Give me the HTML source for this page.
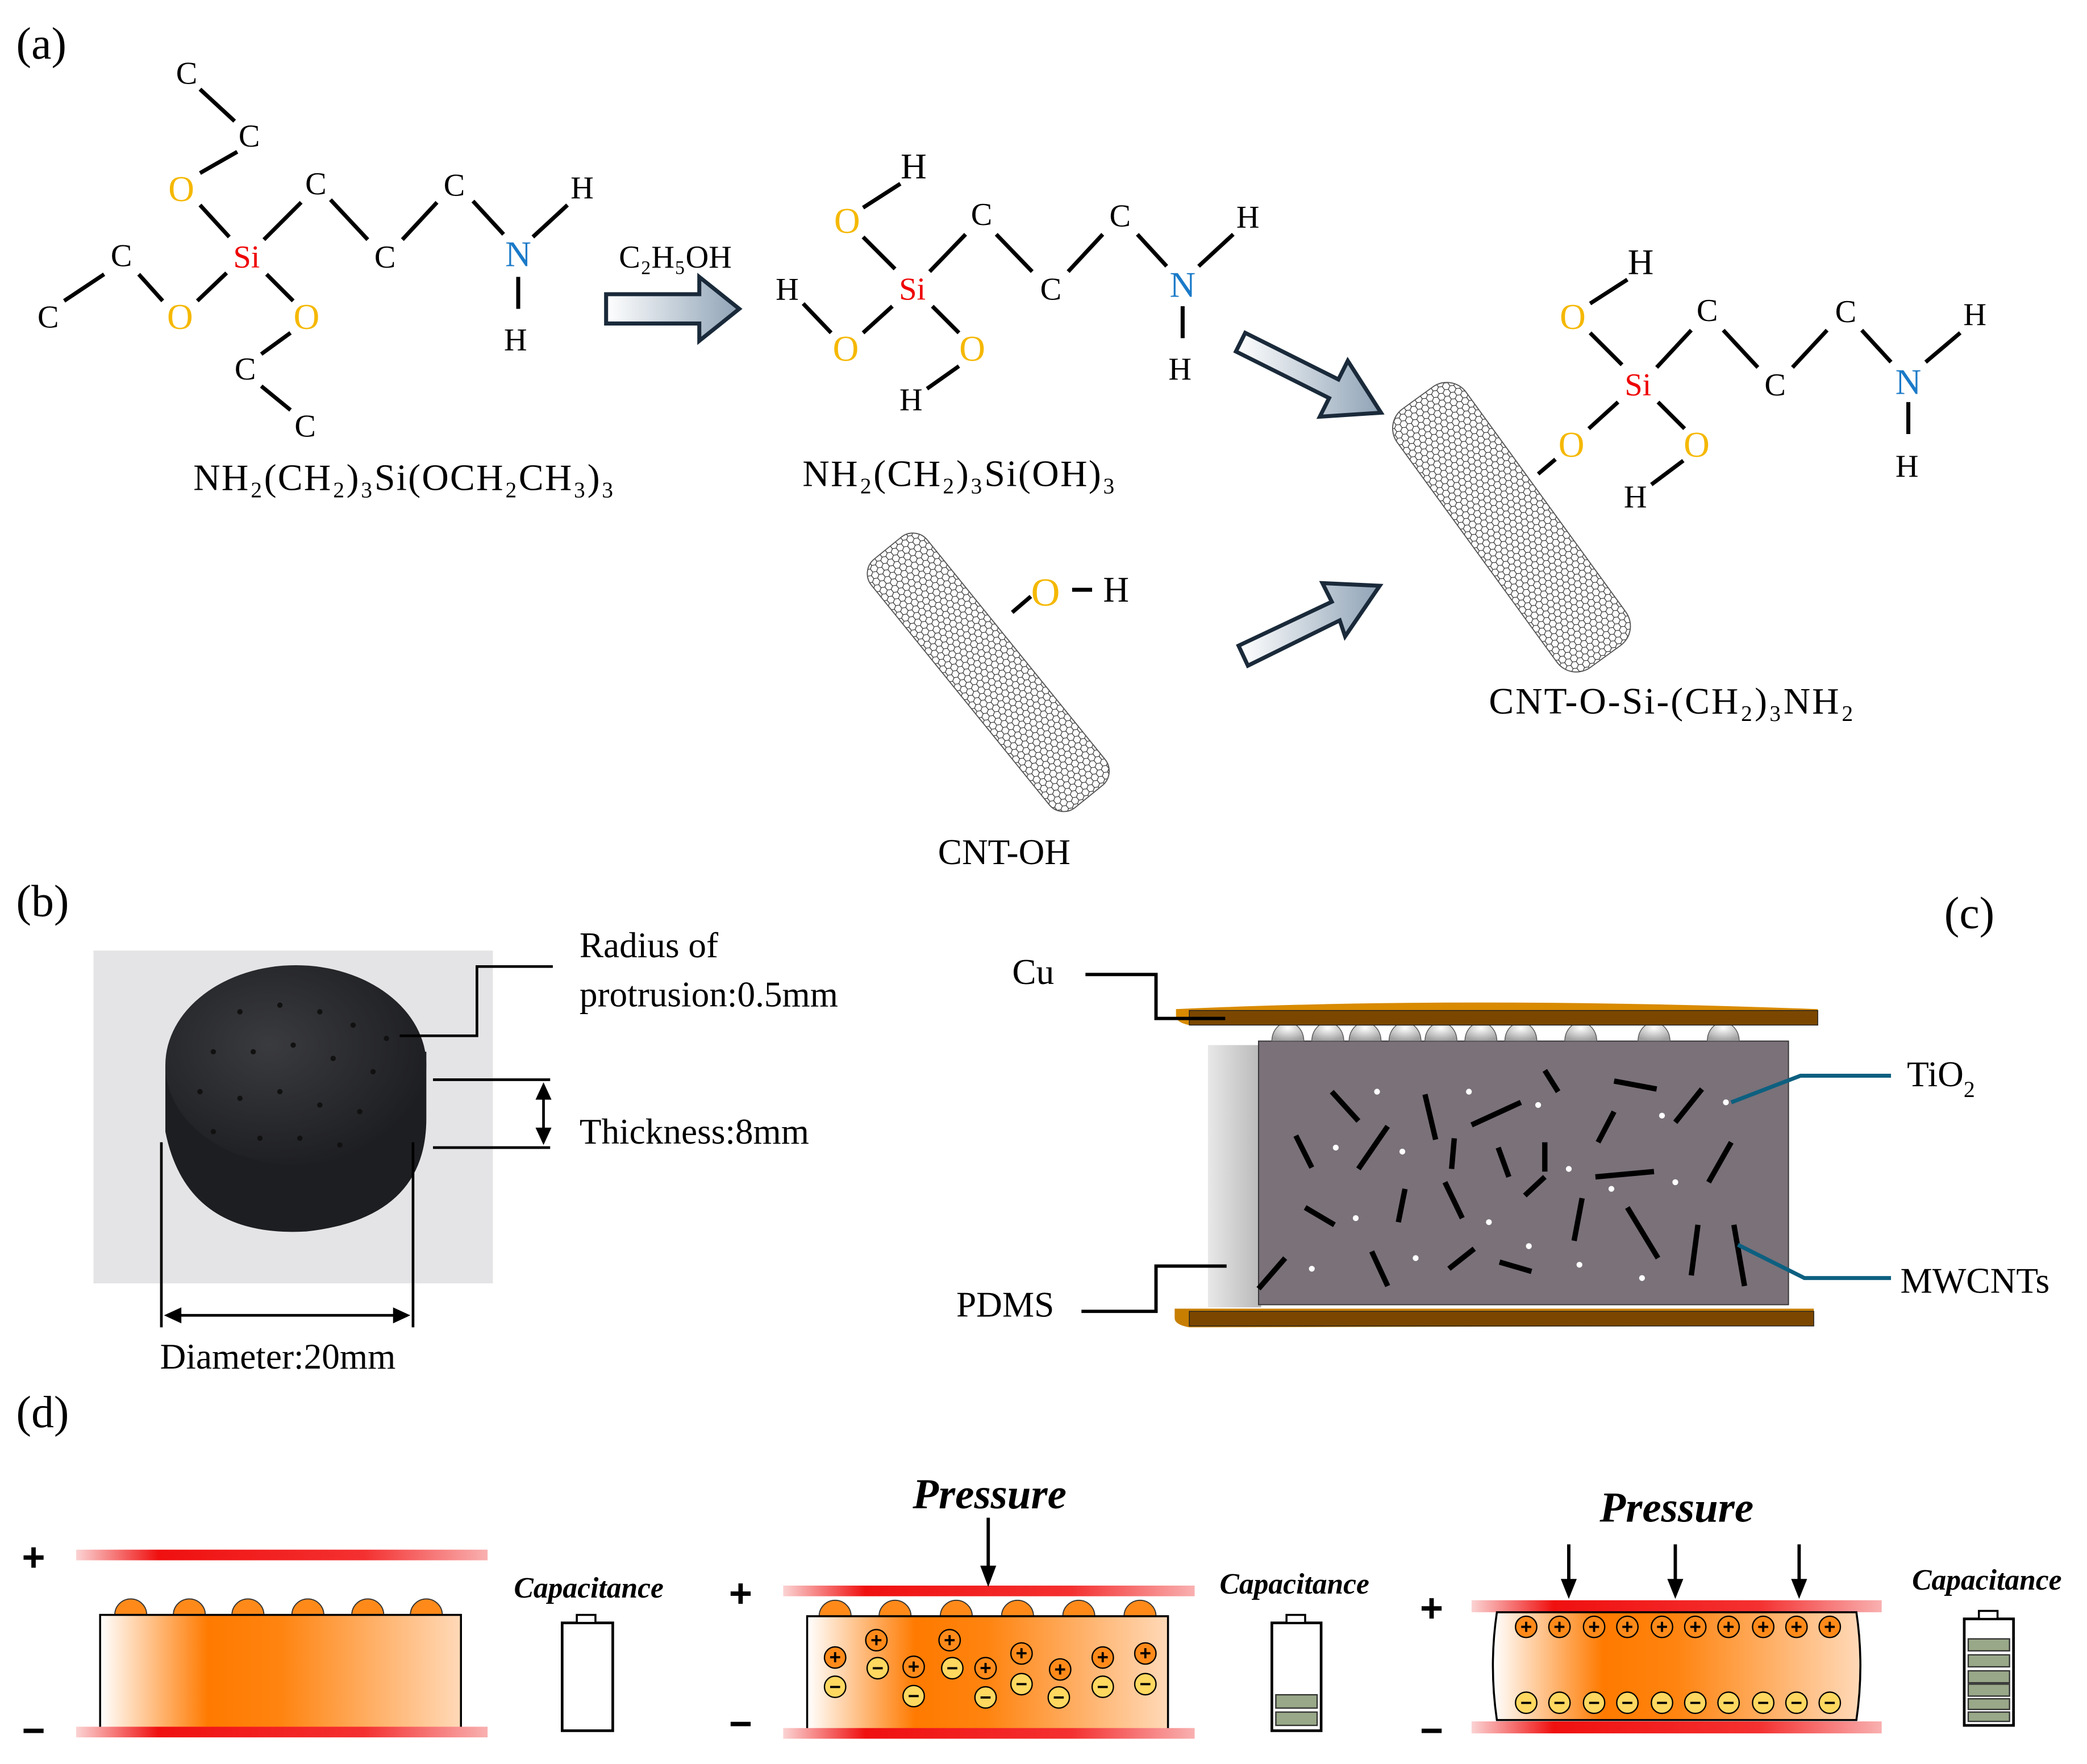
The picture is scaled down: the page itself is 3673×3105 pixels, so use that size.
<!DOCTYPE html>
<html><head><meta charset="utf-8"><style>html,body{margin:0;padding:0;background:#fff}svg{display:block}</style></head><body>
<svg xmlns="http://www.w3.org/2000/svg" width="3673" height="3105" viewBox="0 0 1567 1325" font-family="Liberation Serif, serif">
<defs>
<pattern id="hex" width="5" height="8.7" patternUnits="userSpaceOnUse">
<path d="M0,0 L2.5,1.45 L2.5,4.35 L0,5.8 M2.5,1.45 L5,0 M2.5,4.35 L5,5.8 L5,8.7 M0,5.8 L0,8.7" stroke="#222" stroke-width="0.5" fill="none"/>
</pattern>
<linearGradient id="arr" x1="0" y1="0" x2="1" y2="0"><stop offset="0" stop-color="#fff"/><stop offset="1" stop-color="#8fa3b6"/></linearGradient>
<linearGradient id="red" x1="0" y1="0" x2="1" y2="0"><stop offset="0" stop-color="#fbd3d3"/><stop offset="0.2" stop-color="#f01010"/><stop offset="0.7" stop-color="#f43030"/><stop offset="1" stop-color="#f9b0b0"/></linearGradient>
<linearGradient id="org" x1="0" y1="0" x2="1" y2="0"><stop offset="0" stop-color="#fff"/><stop offset="0.3" stop-color="#ff7a00"/><stop offset="0.5" stop-color="#ff8410"/><stop offset="1" stop-color="#ffd9b8"/></linearGradient>
<linearGradient id="side" x1="0" y1="0" x2="1" y2="0"><stop offset="0" stop-color="#e8e8e8"/><stop offset="1" stop-color="#b8b8b8"/></linearGradient>
<radialGradient id="bump" cx="0.5" cy="0.3" r="0.7"><stop offset="0" stop-color="#fff"/><stop offset="1" stop-color="#a0a0a0"/></radialGradient>
<radialGradient id="disc" cx="0.4" cy="0.4" r="0.7"><stop offset="0" stop-color="#3a3b3f"/><stop offset="1" stop-color="#1a1b1e"/></radialGradient>
</defs>

<g font-size="34"><text x="12" y="44">(a)</text><text x="12" y="688">(b)</text><text x="1460" y="697">(c)</text><text x="12" y="1072">(d)</text></g>

<!-- Molecule 1 -->
<g stroke="#000" stroke-width="3">
<line x1="150" y1="67" x2="176" y2="91"/><line x1="178" y1="114" x2="150" y2="130"/><line x1="150" y1="154" x2="172" y2="178"/>
<line x1="198" y1="180" x2="226" y2="152"/><line x1="248" y1="150" x2="276" y2="180"/><line x1="302" y1="180" x2="328" y2="152"/>
<line x1="355" y1="151" x2="378" y2="176"/><line x1="400" y1="178" x2="426" y2="154"/><line x1="389" y1="208" x2="389" y2="232"/>
<line x1="170" y1="205" x2="148" y2="226"/><line x1="122" y1="226" x2="104" y2="206"/><line x1="78" y1="206" x2="48" y2="226"/>
<line x1="200" y1="206" x2="220" y2="226"/><line x1="218" y1="250" x2="196" y2="266"/><line x1="196" y1="290" x2="218" y2="308"/>
</g>
<g font-size="24" text-anchor="middle">
<text x="140" y="63">C</text><text x="187" y="110">C</text><text x="136" y="151" fill="#f5b800" font-size="27">O</text><text x="185" y="201" fill="#e00">Si</text>
<text x="237" y="146">C</text><text x="289" y="201">C</text><text x="341" y="147">C</text><text x="389" y="200" fill="#1a7ac8" font-size="27">N</text>
<text x="437" y="149">H</text><text x="387" y="263">H</text><text x="135" y="247" fill="#f5b800" font-size="27">O</text><text x="91" y="200">C</text>
<text x="36" y="246">C</text><text x="230" y="247" fill="#f5b800" font-size="27">O</text><text x="184" y="285">C</text><text x="229" y="328">C</text>
<text x="303" y="368" font-size="28" textLength="316">NH₂(CH₂)₃Si(OCH₂CH₃)₃</text>
<text x="507" y="201" font-size="24">C₂H₅OH</text>
</g>
<polygon points="455,221 525,221 525,208 555,232 525,256 525,243 455,243" fill="url(#arr)" stroke="#1a2a3a" stroke-width="3"/>

<!-- Molecule 2 -->
<g stroke="#000" stroke-width="3">
<line x1="676" y1="138" x2="648" y2="156"/><line x1="648" y1="178" x2="672" y2="202"/><line x1="698" y1="204" x2="725" y2="176"/>
<line x1="748" y1="176" x2="775" y2="204"/><line x1="802" y1="204" x2="828" y2="176"/><line x1="854" y1="176" x2="876" y2="200"/>
<line x1="900" y1="200" x2="926" y2="176"/><line x1="888" y1="230" x2="888" y2="254"/><line x1="603" y1="228" x2="624" y2="250"/>
<line x1="670" y1="230" x2="648" y2="250"/><line x1="700" y1="230" x2="720" y2="250"/><line x1="720" y1="275" x2="696" y2="292"/>
</g>
<g font-size="24" text-anchor="middle">
<text x="686" y="134" font-size="27">H</text><text x="636" y="175" fill="#f5b800" font-size="27">O</text><text x="685" y="225" fill="#e00">Si</text>
<text x="737" y="169">C</text><text x="789" y="225">C</text><text x="841" y="170">C</text><text x="888" y="223" fill="#1a7ac8" font-size="27">N</text>
<text x="937" y="171">H</text><text x="886" y="285">H</text><text x="591" y="225">H</text><text x="635" y="271" fill="#f5b800" font-size="27">O</text>
<text x="730" y="271" fill="#f5b800" font-size="27">O</text><text x="684" y="308">H</text>
<text x="720" y="365" font-size="28" textLength="235">NH₂(CH₂)₃Si(OH)₃</text>
</g>

<!-- CNT-OH -->
<g transform="translate(742,505) rotate(-39)">
<rect x="-27" y="-120" width="54" height="240" rx="14" fill="url(#hex)" stroke="#555" stroke-width="0.8"/>
</g>
<line x1="760" y1="460" x2="774" y2="448" stroke="#000" stroke-width="3"/>
<line x1="805" y1="443" x2="820" y2="443" stroke="#000" stroke-width="3"/>
<text x="785" y="455" font-size="30" fill="#f5b800" text-anchor="middle">O</text>
<text x="838" y="452" font-size="27" text-anchor="middle">H</text>
<text x="754" y="649" font-size="27" text-anchor="middle">CNT-OH</text>

<!-- diagonal arrows -->
<g fill="url(#arr)" stroke="#1a2a3a" stroke-width="3">
<polygon points="935,250 1005,285 1012,271 1037,310 991,313 998,299 928,264"/>
<polygon points="930,485 1000,452 993,438 1036,440 1010,478 1006,466 937,500"/>
</g>

<!-- Molecule 3 -->
<g transform="translate(1135,396) rotate(-36)">
<rect x="-32" y="-120" width="64" height="240" rx="18" fill="url(#hex)" stroke="#555" stroke-width="0.8"/>
</g>
<g stroke="#000" stroke-width="3">
<line x1="1222" y1="210" x2="1194" y2="228"/><line x1="1194" y1="250" x2="1218" y2="274"/><line x1="1244" y1="276" x2="1270" y2="248"/>
<line x1="1294" y1="248" x2="1320" y2="276"/><line x1="1346" y1="276" x2="1372" y2="248"/><line x1="1398" y1="248" x2="1420" y2="272"/>
<line x1="1446" y1="272" x2="1472" y2="250"/><line x1="1433" y1="302" x2="1433" y2="326"/><line x1="1215" y1="302" x2="1193" y2="322"/>
<line x1="1245" y1="302" x2="1265" y2="322"/><line x1="1264" y1="346" x2="1240" y2="364"/><line x1="1168" y1="345" x2="1155" y2="356"/>
</g>
<g font-size="24" text-anchor="middle">
<text x="1232" y="206" font-size="27">H</text><text x="1181" y="247" fill="#f5b800" font-size="27">O</text><text x="1230" y="297" fill="#e00">Si</text>
<text x="1282" y="241">C</text><text x="1333" y="297">C</text><text x="1386" y="242">C</text><text x="1433" y="296" fill="#1a7ac8" font-size="27">N</text>
<text x="1483" y="244">H</text><text x="1432" y="358">H</text><text x="1180" y="343" fill="#f5b800" font-size="27">O</text>
<text x="1274" y="343" fill="#f5b800" font-size="27">O</text><text x="1228" y="381">H</text>
<text x="1255" y="536" font-size="28" textLength="274">CNT-O-Si-(CH₂)₃NH₂</text>
</g>

<!-- (b) photo -->
<rect x="70" y="714" width="300" height="250" fill="#e4e4e6"/>
<path d="M124,800 L124,850 Q140,930 230,925 Q320,915 320,840 L320,790 Z" fill="#1d1e21"/>
<ellipse cx="222" cy="800" rx="98" ry="75" fill="url(#disc)"/>
<g fill="#111">
<circle cx="180" cy="760" r="2"/><circle cx="210" cy="755" r="2"/><circle cx="240" cy="760" r="2"/><circle cx="265" cy="770" r="2"/><circle cx="290" cy="780" r="2"/>
<circle cx="160" cy="790" r="2"/><circle cx="190" cy="790" r="2"/><circle cx="220" cy="785" r="2"/><circle cx="250" cy="795" r="2"/><circle cx="280" cy="805" r="2"/>
<circle cx="150" cy="820" r="2"/><circle cx="180" cy="825" r="2"/><circle cx="210" cy="820" r="2"/><circle cx="240" cy="830" r="2"/><circle cx="270" cy="835" r="2"/>
<circle cx="160" cy="850" r="2"/><circle cx="195" cy="855" r="2"/><circle cx="225" cy="855" r="2"/><circle cx="255" cy="860" r="2"/>
</g>
<g stroke="#000" stroke-width="2" fill="none">
<polyline points="300,778 358,778 358,726 415,726"/>
<line x1="325" y1="811" x2="413" y2="811"/><line x1="325" y1="862" x2="413" y2="862"/>
<line x1="408" y1="818" x2="408" y2="855"/>
<line x1="121" y1="858" x2="121" y2="997"/><line x1="310" y1="858" x2="310" y2="997"/>
<line x1="130" y1="988" x2="301" y2="988"/>
</g>
<g fill="#000">
<polygon points="408,813 402,826 414,826"/><polygon points="408,860 402,847 414,847"/>
<polygon points="123,988 136,982 136,994"/><polygon points="308,988 295,982 295,994"/>
</g>
<g font-size="27"><text x="435" y="719">Radius of</text><text x="435" y="756">protrusion:0.5mm</text><text x="435" y="859">Thickness:8mm</text><text x="120" y="1028">Diameter:20mm</text></g>

<!-- (c) -->
<rect x="907" y="785" width="40" height="197" fill="url(#side)"/>
<rect x="945" y="782" width="398" height="198" fill="#7a7179" stroke="#333" stroke-width="0.8"/>
<g fill="url(#bump)" stroke="#555" stroke-width="0.6">
<path d="M955,782 a12,14 0 0 1 24,0z"/><path d="M985,782 a12,14 0 0 1 24,0z"/><path d="M1013,782 a12,14 0 0 1 24,0z"/><path d="M1043,782 a12,14 0 0 1 24,0z"/><path d="M1070,782 a12,14 0 0 1 24,0z"/><path d="M1100,782 a12,14 0 0 1 24,0z"/><path d="M1130,782 a12,14 0 0 1 24,0z"/><path d="M1175,782 a12,14 0 0 1 24,0z"/><path d="M1230,782 a12,14 0 0 1 24,0z"/><path d="M1282,782 a12,14 0 0 1 24,0z"/>
</g>
<path d="M883,758 Q1100,748 1365,758 L1365,770 L893,770 Q883,768 883,763Z" fill="#d88a00"/>
<rect x="893" y="759" width="472" height="11" fill="#7b4700" stroke="#222" stroke-width="0.6"/>
<path d="M882,983 L1362,983 L1362,996 L893,997 Q882,995 882,990Z" fill="#c87e00"/>
<rect x="893" y="985" width="469" height="11" fill="#7b4700" stroke="#222" stroke-width="0.6"/>
<g stroke="#000" stroke-width="4" stroke-linecap="butt">
<line x1="1000" y1="820" x2="1020" y2="842"/><line x1="1070" y1="822" x2="1078" y2="856"/><line x1="1105" y1="845" x2="1142" y2="828"/>
<line x1="1160" y1="804" x2="1170" y2="820"/><line x1="1212" y1="812" x2="1244" y2="818"/><line x1="1258" y1="843" x2="1278" y2="818"/>
<line x1="1200" y1="858" x2="1212" y2="835"/><line x1="973" y1="853" x2="985" y2="877"/><line x1="1020" y1="878" x2="1042" y2="846"/>
<line x1="1090" y1="878" x2="1092" y2="855"/><line x1="1125" y1="862" x2="1133" y2="884"/><line x1="1160" y1="858" x2="1160" y2="880"/>
<line x1="1198" y1="884" x2="1242" y2="880"/><line x1="1283" y1="888" x2="1300" y2="858"/><line x1="980" y1="907" x2="1002" y2="920"/>
<line x1="1050" y1="918" x2="1055" y2="893"/><line x1="1085" y1="888" x2="1098" y2="915"/><line x1="1145" y1="898" x2="1160" y2="884"/>
<line x1="1182" y1="932" x2="1188" y2="900"/><line x1="1222" y1="907" x2="1245" y2="945"/><line x1="945" y1="968" x2="965" y2="945"/>
<line x1="1030" y1="940" x2="1042" y2="966"/><line x1="1088" y1="953" x2="1107" y2="938"/><line x1="1126" y1="948" x2="1150" y2="955"/>
<line x1="1270" y1="958" x2="1275" y2="920"/><line x1="1302" y1="920" x2="1310" y2="966"/>
</g>
<g fill="#fff">
<circle cx="1034" cy="820" r="2.2"/><circle cx="1103" cy="820" r="2.2"/><circle cx="1155" cy="830" r="2.2"/><circle cx="1248" cy="838" r="2.2"/><circle cx="1296" cy="828" r="2.2"/>
<circle cx="1003" cy="862" r="2.2"/><circle cx="1053" cy="865" r="2.2"/><circle cx="1178" cy="878" r="2.2"/><circle cx="1258" cy="888" r="2.2"/><circle cx="1018" cy="915" r="2.2"/>
<circle cx="1118" cy="918" r="2.2"/><circle cx="1210" cy="893" r="2.2"/><circle cx="1063" cy="945" r="2.2"/><circle cx="1148" cy="936" r="2.2"/><circle cx="1186" cy="950" r="2.2"/>
<circle cx="1233" cy="960" r="2.2"/><circle cx="985" cy="953" r="2.2"/>
</g>
<g stroke="#000" stroke-width="2.5" fill="none">
<polyline points="815,732 868,732 868,765 920,765"/><polyline points="812,985 868,985 868,951 921,951"/>
</g>
<g stroke="#0d6080" stroke-width="3" fill="none">
<polyline points="1300,828 1352,808 1420,808"/><polyline points="1305,935 1355,960 1420,960"/>
</g>
<g font-size="27"><text x="760" y="739">Cu</text><text x="718" y="989">PDMS</text><text x="1432" y="816">TiO<tspan font-size="17" dy="8">2</tspan></text><text x="1427" y="971">MWCNTs</text></g>

<!-- (d) -->
<g font-family="Liberation Sans, sans-serif" font-weight="bold" font-size="30" text-anchor="middle">
<text x="25" y="1180">+</text><text x="25" y="1310">−</text>
<text x="556" y="1207">+</text><text x="556" y="1305">−</text>
<text x="1075" y="1218">+</text><text x="1075" y="1310">−</text>
</g>
<g font-weight="bold" font-style="italic" text-anchor="middle">
<text x="442" y="1200" font-size="22">Capacitance</text><text x="972" y="1197" font-size="22">Capacitance</text><text x="1492" y="1194" font-size="22">Capacitance</text>
<text x="743" y="1133" font-size="32">Pressure</text><text x="1259" y="1143" font-size="32">Pressure</text>
</g>
<!-- panel 1 -->
<rect x="57" y="1164" width="309" height="8" fill="url(#red)"/>
<g fill="#ff8a1a" stroke="#333" stroke-width="0.8">
<path d="M86,1213 a12,12 0 0 1 24,0z"/><path d="M130,1213 a12,12 0 0 1 24,0z"/><path d="M174,1213 a12,12 0 0 1 24,0z"/><path d="M219,1213 a12,12 0 0 1 24,0z"/><path d="M264,1213 a12,12 0 0 1 24,0z"/><path d="M308,1213 a12,12 0 0 1 24,0z"/>
</g>
<rect x="75" y="1213" width="271" height="86" fill="url(#org)" stroke="#000" stroke-width="1.5"/>
<rect x="57" y="1297" width="309" height="8" fill="url(#red)"/>
<rect x="422" y="1219" width="38" height="81" fill="#fff" stroke="#000" stroke-width="2"/><rect x="433" y="1213" width="14" height="6" fill="#fff" stroke="#000" stroke-width="1.5"/>
<!-- panel 2 -->
<rect x="588" y="1191" width="309" height="8" fill="url(#red)"/>
<line x1="742" y1="1140" x2="742" y2="1180" stroke="#000" stroke-width="2.5"/><polygon points="742,1192 736,1176 748,1176"/>
<g fill="#ff8a1a" stroke="#333" stroke-width="0.8">
<path d="M615,1214 a12,12 0 0 1 24,0z"/><path d="M660,1214 a12,12 0 0 1 24,0z"/><path d="M706,1214 a12,12 0 0 1 24,0z"/><path d="M752,1214 a12,12 0 0 1 24,0z"/><path d="M798,1214 a12,12 0 0 1 24,0z"/><path d="M844,1214 a12,12 0 0 1 24,0z"/>
</g>
<rect x="606" y="1214" width="271" height="86" fill="url(#org)" stroke="#000" stroke-width="1.5"/>
<rect x="588" y="1298" width="309" height="8" fill="url(#red)"/>
<g stroke="#000" stroke-width="1">
<g fill="#ff8a1a">
<circle cx="658" cy="1232" r="8"/><circle cx="713" cy="1232" r="8"/><circle cx="627" cy="1245" r="8"/><circle cx="767" cy="1242" r="8"/><circle cx="828" cy="1245" r="8"/><circle cx="860" cy="1242" r="8"/><circle cx="686" cy="1252" r="8"/><circle cx="740" cy="1253" r="8"/><circle cx="796" cy="1254" r="8"/>
</g>
<g fill="#ffd860">
<circle cx="659" cy="1253" r="8"/><circle cx="715" cy="1253" r="8"/><circle cx="627" cy="1267" r="8"/><circle cx="767" cy="1265" r="8"/><circle cx="828" cy="1267" r="8"/><circle cx="860" cy="1265" r="8"/><circle cx="686" cy="1274" r="8"/><circle cx="740" cy="1275" r="8"/><circle cx="795" cy="1275" r="8"/>
</g>
</g>
<g font-family="Liberation Sans, sans-serif" font-size="15" font-weight="bold" text-anchor="middle" fill="#000">
<text x="658" y="1237">+</text><text x="713" y="1237">+</text><text x="627" y="1250">+</text><text x="767" y="1247">+</text><text x="828" y="1250">+</text><text x="860" y="1247">+</text><text x="686" y="1257">+</text><text x="740" y="1258">+</text><text x="796" y="1259">+</text>
<text x="659" y="1258">−</text><text x="715" y="1258">−</text><text x="627" y="1272">−</text><text x="767" y="1270">−</text><text x="828" y="1272">−</text><text x="860" y="1270">−</text><text x="686" y="1279">−</text><text x="740" y="1280">−</text><text x="795" y="1280">−</text>
</g>
<rect x="955" y="1219" width="37" height="81" fill="#fff" stroke="#000" stroke-width="2"/><rect x="966" y="1213" width="14" height="6" fill="#fff" stroke="#000" stroke-width="1.5"/>
<rect x="958" y="1273" width="31" height="10" fill="#98a888" stroke="#333"/><rect x="958" y="1286" width="31" height="10" fill="#98a888" stroke="#333"/>
<!-- panel 3 -->
<rect x="1105" y="1202" width="308" height="9" fill="url(#red)"/>
<g stroke="#000" stroke-width="2.5"><line x1="1178" y1="1160" x2="1178" y2="1190"/><line x1="1258" y1="1160" x2="1258" y2="1190"/><line x1="1351" y1="1160" x2="1351" y2="1190"/></g>
<polygon points="1178,1201 1172,1186 1184,1186"/><polygon points="1258,1201 1252,1186 1264,1186"/><polygon points="1351,1201 1345,1186 1357,1186"/>
<path d="M1124,1211 L1394,1211 Q1400,1251 1394,1292 L1124,1292 Q1118,1251 1124,1211Z" fill="url(#org)" stroke="#000" stroke-width="1.5"/>
<rect x="1105" y="1293" width="308" height="9" fill="url(#red)"/>
<g stroke="#000" stroke-width="1">
<g fill="#ff8a1a"><circle cx="1146" cy="1222" r="8"/><circle cx="1171" cy="1222" r="8"/><circle cx="1197" cy="1222" r="8"/><circle cx="1222" cy="1222" r="8"/><circle cx="1248" cy="1222" r="8"/><circle cx="1273" cy="1222" r="8"/><circle cx="1298" cy="1222" r="8"/><circle cx="1324" cy="1222" r="8"/><circle cx="1349" cy="1222" r="8"/><circle cx="1374" cy="1222" r="8"/></g>
<g fill="#ffd860"><circle cx="1146" cy="1279" r="8"/><circle cx="1171" cy="1279" r="8"/><circle cx="1197" cy="1279" r="8"/><circle cx="1222" cy="1279" r="8"/><circle cx="1248" cy="1279" r="8"/><circle cx="1273" cy="1279" r="8"/><circle cx="1298" cy="1279" r="8"/><circle cx="1324" cy="1279" r="8"/><circle cx="1349" cy="1279" r="8"/><circle cx="1374" cy="1279" r="8"/></g>
</g>
<g font-family="Liberation Sans, sans-serif" font-size="15" font-weight="bold" text-anchor="middle">
<text x="1146" y="1227">+</text><text x="1171" y="1227">+</text><text x="1197" y="1227">+</text><text x="1222" y="1227">+</text><text x="1248" y="1227">+</text><text x="1273" y="1227">+</text><text x="1298" y="1227">+</text><text x="1324" y="1227">+</text><text x="1349" y="1227">+</text><text x="1374" y="1227">+</text>
<text x="1146" y="1284">−</text><text x="1171" y="1284">−</text><text x="1197" y="1284">−</text><text x="1222" y="1284">−</text><text x="1248" y="1284">−</text><text x="1273" y="1284">−</text><text x="1298" y="1284">−</text><text x="1324" y="1284">−</text><text x="1349" y="1284">−</text><text x="1374" y="1284">−</text>
</g>
<rect x="1475" y="1216" width="37" height="80" fill="#fff" stroke="#000" stroke-width="2"/><rect x="1486" y="1210" width="14" height="6" fill="#fff" stroke="#000" stroke-width="1.5"/>
<g fill="#98a888" stroke="#333"><rect x="1478" y="1231" width="31" height="9"/><rect x="1478" y="1243" width="31" height="9"/><rect x="1478" y="1255" width="31" height="9"/><rect x="1478" y="1265" width="31" height="9"/><rect x="1478" y="1276" width="31" height="8"/><rect x="1478" y="1286" width="31" height="7"/></g>
</svg>
</body></html>
